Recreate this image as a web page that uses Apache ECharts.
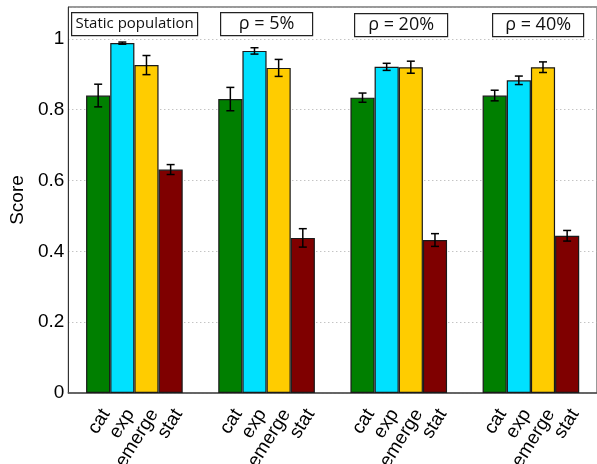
<!DOCTYPE html>
<html><head><meta charset="utf-8">
<script src="https://cdn.jsdelivr.net/npm/echarts@6/dist/echarts.min.js"></script>
<style>html,body{margin:0;padding:0;background:#fff}#c{width:597px;height:464px}</style>
</head><body><div id="c"></div>
<script>
var groups = ['Static population', 'ρ = 5%', 'ρ = 20%', 'ρ = 40%'];
var methods = ['cat', 'exp', 'emerge', 'stat'];
var colors = ['#007f00', '#00e1ff', '#ffcc00', '#7f0000'];
var catVals    = [0.840, 0.830, 0.834, 0.840];
var expVals    = [0.988, 0.966, 0.921, 0.883];
var emergeVals = [0.926, 0.918, 0.920, 0.920];
var statVals   = [0.631, 0.438, 0.432, 0.444];
var catErr     = [0.032, 0.033, 0.013, 0.015];
var expErr     = [0.003, 0.009, 0.010, 0.012];
var emergeErr  = [0.027, 0.024, 0.017, 0.015];
var statErr    = [0.014, 0.026, 0.018, 0.015];
var yTicks = [0, 0.2, 0.4, 0.6, 0.8, 1];

var vals = [catVals, expVals, emergeVals, statVals];
var errs = [catErr, expErr, emergeErr, statErr];
var GAP = 0.269;
var FONT = "'Liberation Sans', Arial, sans-serif";

var chart = echarts.init(document.getElementById('c'));
var series = [];
methods.forEach(function (m, i) {
  series.push({
    type: 'bar', name: m, data: vals[i], barGap: '0%', barCategoryGap: (GAP * 100) + '%',
    itemStyle: { color: colors[i], borderColor: '#1a1a1a', borderWidth: 1.2 },
    label: {
      show: true, formatter: m, position: 'insideBottom', distance: 0,
      rotate: 58, align: 'right', verticalAlign: 'middle', offset: [-11, 16],
      color: '#000', fontFamily: FONT, fontSize: 19
    },
    z: 2
  });
});
methods.forEach(function (m, i) {
  series.push({
    type: 'custom', name: m + '_err', z: 5,
    data: vals[i].map(function (v, g) { return [g, v, errs[i][g]]; }),
    renderItem: function (params, api) {
      var g = api.value(0), v = api.value(1), e = api.value(2);
      var cw = api.size([1, 0])[0];
      var bw = cw * (1 - GAP) / 4;
      var c = api.coord([g, v]);
      var x = c[0] + (i - 1.5) * bw;
      var yt = api.coord([g, v + e])[1], yb = api.coord([g, v - e])[1];
      var hw = 4;
      var st = { stroke: '#000', lineWidth: 1.5 };
      return { type: 'group', children: [
        { type: 'line', shape: { x1: x, y1: yt, x2: x, y2: yb }, style: st },
        { type: 'line', shape: { x1: x - hw, y1: yt, x2: x + hw, y2: yt }, style: st },
        { type: 'line', shape: { x1: x - hw, y1: yb, x2: x + hw, y2: yb }, style: st }
      ]};
    }
  });
});

function box(x, y, w, h, txt, fs) {
  return { type: 'group', left: x, top: y, children: [
    { type: 'rect', shape: { x: 0, y: 0, width: w, height: h }, style: { fill: '#fff', stroke: '#222', lineWidth: 1.2 } },
    { type: 'text', x: w / 2, y: h / 2, style: { text: txt, fill: '#111', fontFamily: "'Open Sans', sans-serif", fontSize: fs, align: 'center', verticalAlign: 'middle' } }
  ]};
}

chart.setOption({
  animation: false,
  grid: { left: 66, top: 7, width: 536, bottom: 71, show: true, borderColor: '#333', borderWidth: 1, backgroundColor: 'transparent' },
  xAxis: {
    type: 'category', data: groups,
    axisLine: { lineStyle: { color: '#555', width: 1.5 } },
    axisTick: { show: false }, axisLabel: { show: false }
  },
  yAxis: {
    type: 'value', min: 0, max: 1.09, interval: 0.2,
    name: 'Score', nameLocation: 'middle', nameGap: 28,
    nameTextStyle: { fontFamily: FONT, fontSize: 19, color: '#000' },
    axisLine: { show: true, lineStyle: { color: '#333', width: 1 } },
    axisTick: { show: false },
    axisLabel: {
      fontFamily: FONT, fontSize: 19, color: '#000', margin: 4,
      formatter: function (v) { return yTicks.indexOf(Math.round(v * 10) / 10) >= 0 ? String(Math.round(v * 10) / 10) : ''; }
    },
    splitLine: { show: true, lineStyle: { color: '#aaa', type: [1, 3], width: 1 } }
  },
  series: series,
  graphic: [
    box(71, 12, 126, 23, groups[0], 15),
    box(220, 12, 92, 23, groups[1], 18),
    box(354, 13, 93, 23, groups[2], 18),
    box(492, 13, 91, 23, groups[3], 18)
  ]
});
</script></body></html>
